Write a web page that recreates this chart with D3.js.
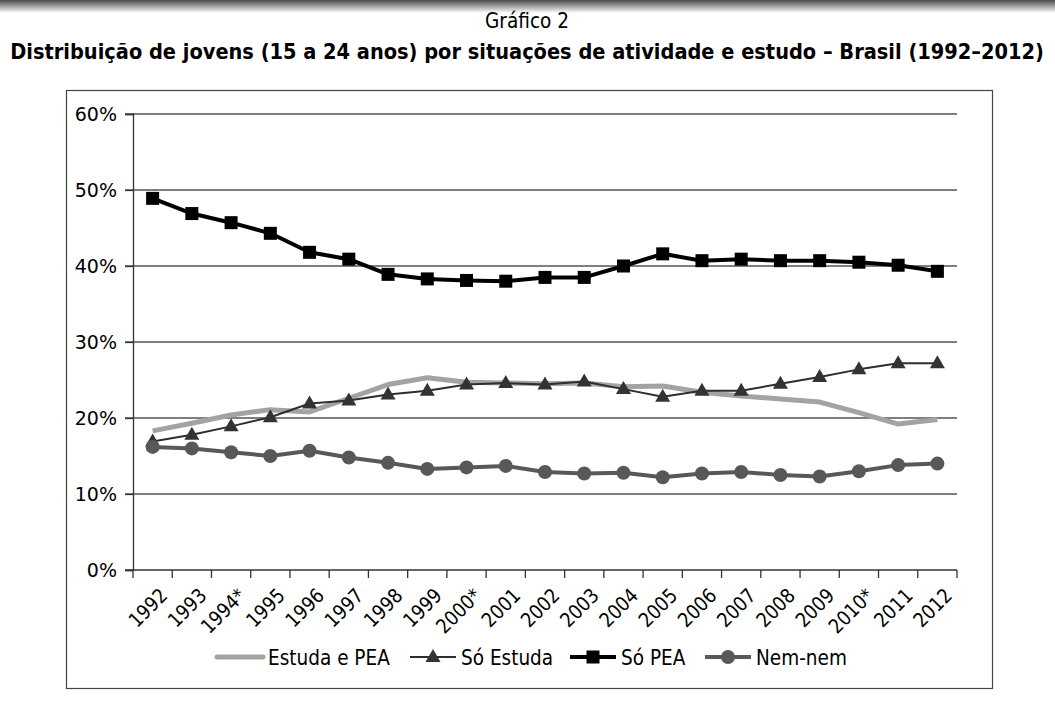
<!DOCTYPE html>
<html>
<head>
<meta charset="utf-8">
<script src="https://cdn.jsdelivr.net/npm/d3@7"></script>
<style>
  body { margin: 0; background: #fff; }
  svg { display: block; }
  text { font-family: 'DejaVu Sans', sans-serif; }
</style>
</head>
<body>
<svg id="chart" width="1055" height="704"></svg>
<script>
// anos e valores (%)
var years = ["1992","1993","1994*","1995","1996","1997","1998","1999","2000*","2001","2002",
             "2003","2004","2005","2006","2007","2008","2009","2010*","2011","2012"];

var estudaPEA = [18.3,19.3,20.4,21.1,20.8,22.6,24.4,25.3,24.7,24.6,24.5,24.6,24.1,24.2,23.4,22.9,22.5,22.1,20.7,19.2,19.8];
var soEstuda  = [16.9,17.8,18.9,20.1,21.9,22.3,23.1,23.6,24.4,24.6,24.4,24.8,23.8,22.8,23.6,23.6,24.5,25.4,26.4,27.2,27.2];
var soPEA     = [48.9,46.9,45.7,44.3,41.8,40.9,38.9,38.3,38.1,38.0,38.5,38.5,40.0,41.6,40.7,40.9,40.7,40.7,40.5,40.1,39.3];
var nemNem    = [16.2,16.0,15.5,15.0,15.7,14.8,14.1,13.3,13.5,13.7,12.9,12.7,12.8,12.2,12.7,12.9,12.5,12.3,13.0,13.8,14.0];

var yTicks = [0, 10, 20, 30, 40, 50, 60];

var series = [
    {name: "Estuda e PEA", values: estudaPEA, color: "#a3a3a3", width: 5, marker: "none"},
    {name: "Só Estuda", values: soEstuda, color: "#2e2e2e", width: 2, marker: "triangle"},
    {name: "Só PEA", values: soPEA, color: "#000", width: 4, marker: "square"},
    {name: "Nem-nem", values: nemNem, color: "#58585a", width: 4, marker: "circle"}
];

var svg = d3.select("#chart");

// faixa cinza no topo
var defs = svg.append("defs");
var grad = defs.append("linearGradient").attr("id", "topbar")
    .attr("x1", 0).attr("y1", 0).attr("x2", 0).attr("y2", 1);
grad.append("stop").attr("offset", "0%").attr("stop-color", "#4a4a4a");
grad.append("stop").attr("offset", "100%").attr("stop-color", "#fff");
svg.append("rect").attr("x", 0).attr("y", 0).attr("width", 1055).attr("height", 13)
    .attr("fill", "url(#topbar)");

svg.append("text")
    .attr("transform", "translate(527,28) scale(0.88,1)")
    .attr("text-anchor", "middle")
    .style("font-size", "21px")
    .text("Gráfico 2");

// título: a fonte do original é condensada, então encolhe na horizontal
var title = svg.append("text")
    .attr("text-anchor", "middle")
    .style("font-size", "22px").style("font-weight", "bold")
    .text("Distribuição de jovens (15 a 24 anos) por situações de atividade e estudo – Brasil (1992–2012)");
var tw = title.node().getComputedTextLength();
title.attr("transform", "translate(527,59) scale(" + (1034 / tw) + ",1)");

// moldura
svg.append("rect")
    .attr("x", 66.5).attr("y", 90.5).attr("width", 926).attr("height", 598)
    .attr("fill", "none").attr("stroke", "#444").attr("stroke-width", 1.2);

var plot = {left: 133, right: 957, top: 114, bottom: 570};

var xScale = d3.scaleBand()
    .domain(years)
    .range([plot.left, plot.right]);

var yScale = d3.scaleLinear()
    .domain([0, 60])
    .range([plot.bottom, plot.top]);

// grade
svg.append("g").selectAll("line")
    .data(yTicks.filter(function (d) { return d > 0; }))
    .enter()
    .append("line")
    .attr("x1", plot.left - 8).attr("x2", plot.right)
    .attr("y1", function (d) { return yScale(d); })
    .attr("y2", function (d) { return yScale(d); })
    .attr("stroke", "#555").attr("stroke-width", 1.3);

var yAxis = svg.append("g")
    .attr("transform", "translate(" + plot.left + ",0)")
    .call(d3.axisLeft(yScale).tickValues(yTicks).tickSize(8).tickPadding(8)
        .tickFormat(function (d) { return d + "%"; }));
yAxis.select(".domain").attr("stroke", "#333").attr("stroke-width", 1.3);
yAxis.selectAll("line").attr("stroke", "#333").attr("stroke-width", 1.3);
yAxis.selectAll("text")
    .style("font-family", "'DejaVu Sans', sans-serif").style("font-size", "19px")
    .attr("fill", "#000");

var xAxis = svg.append("g")
    .attr("transform", "translate(0," + plot.bottom + ")");
xAxis.append("line")
    .attr("x1", plot.left - 8).attr("x2", plot.right)
    .attr("stroke", "#333").attr("stroke-width", 1.3);
var tickXs = years.map(function (d) { return xScale(d); }).concat([plot.right]);
xAxis.selectAll("line.tick")
    .data(tickXs)
    .enter()
    .append("line")
    .attr("class", "tick")
    .attr("x1", function (d) { return d; }).attr("x2", function (d) { return d; })
    .attr("y1", 0).attr("y2", 8)
    .attr("stroke", "#333").attr("stroke-width", 1.3);
xAxis.selectAll("text")
    .data(years)
    .enter()
    .append("text")
    .attr("transform", function (d) {
        return "translate(" + (xScale(d) + xScale.bandwidth() / 2 + 11) + ",22) rotate(-45) scale(0.88,1)";
    })
    .attr("text-anchor", "end")
    .attr("dy", "0.35em")
    .style("font-size", "20px")
    .text(function (d) { return d; });

// linhas
var line = d3.line()
    .x(function (d, i) { return xScale(years[i]) + xScale.bandwidth() / 2; })
    .y(function (d) { return yScale(d); });

var drawMarker = function (g, s, cx, cy) {
    if (s.marker === "square") {
        g.append("rect").attr("x", cx - 6.5).attr("y", cy - 6.5)
            .attr("width", 13).attr("height", 13).attr("fill", s.color);
    } else if (s.marker === "triangle") {
        g.append("path")
            .attr("d", "M" + cx + "," + (cy - 8) + "L" + (cx + 7.5) + "," + (cy + 5) + "L" + (cx - 7.5) + "," + (cy + 5) + "Z")
            .attr("fill", "#333");
    } else if (s.marker === "circle") {
        g.append("circle").attr("cx", cx).attr("cy", cy).attr("r", 7).attr("fill", s.color);
    }
};

series.forEach(function (s) {
    var g = svg.append("g");
    g.append("path")
        .datum(s.values)
        .attr("d", line)
        .attr("fill", "none")
        .attr("stroke", s.color)
        .attr("stroke-width", s.width)
        .attr("stroke-linejoin", "round");
    s.values.forEach(function (v, i) {
        drawMarker(g, s, xScale(years[i]) + xScale.bandwidth() / 2, yScale(v));
    });
});

// legenda
var legendX = [217, 410, 570, 705];
var legend = svg.append("g");
series.forEach(function (s, i) {
    var x0 = legendX[i];
    var g = legend.append("g");
    g.append("line")
        .attr("x1", x0).attr("x2", x0 + 46)
        .attr("y1", 657).attr("y2", 657)
        .attr("stroke", s.color).attr("stroke-width", s.width)
        .attr("stroke-linecap", s.marker === "none" ? "round" : "butt");
    drawMarker(g, {marker: s.marker, color: s.color}, x0 + 23, 657);
    g.append("text")
        .attr("transform", "translate(" + (x0 + 51) + ",657) scale(0.84,1)")
        .attr("dy", "0.35em")
        .style("font-size", "22px")
        .text(s.name);
});
</script>
</body>
</html>
